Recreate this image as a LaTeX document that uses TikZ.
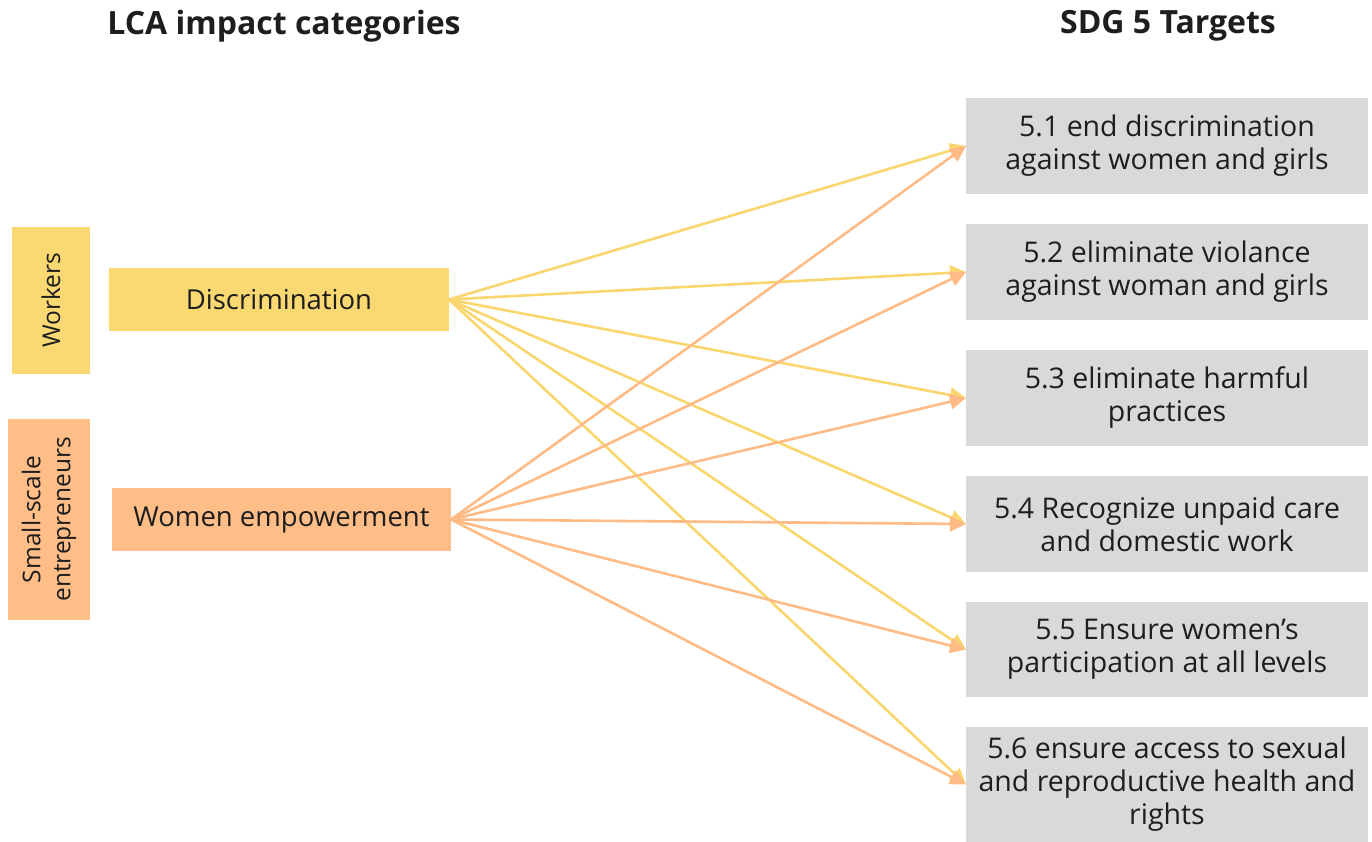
\documentclass[tikz,border=0pt]{standalone}
\usepackage{fontspec}
\setmainfont{Open Sans}
\usetikzlibrary{arrows.meta}
\definecolor{ylw}{HTML}{FAD872}
\definecolor{org}{HTML}{FFBD88}
\definecolor{ylwline}{HTML}{F9D66E}
\definecolor{orgline}{HTML}{FFBB86}
\definecolor{boxgray}{HTML}{D9D9D9}
\definecolor{ink}{HTML}{1E1E1E}
\tikzset{
  every node/.style={inner sep=0pt, outer sep=0pt, text=ink},
  catbox/.style={rectangle, minimum height=63pt, font=\fontsize{27.5}{32}\selectfont},
  groupbox/.style={rectangle, rotate=90, align=center, font=\fontsize{24.5}{30}\selectfont},
  target/.style={rectangle, fill=boxgray, minimum width=402pt, align=center,
                 text=ink, font=\fontsize{28.5}{33}\selectfont},
  header/.style={font=\bfseries\fontsize{32}{36}\selectfont},
  link/.style={line width=2.6pt, -{Triangle[length=16pt,width=15pt]}},
}
\begin{document}
\begin{tikzpicture}[x=1pt,y=-1pt]
\useasboundingbox (0,0) rectangle (1372,842);

% column headings
\node[header] (hleft) at (284,26) {LCA impact categories};
\node[header] (hright) at (1168,26) {SDG 5 Targets};

% stakeholder groups
\node[groupbox, fill=ylw, minimum width=147pt, minimum height=78pt] (workers) at (51,300.5) {Workers};
\node[groupbox, fill=org, minimum width=201pt, minimum height=82pt] (sse) at (49,519.5) {Small-scale\\entrepreneurs};

% impact categories
\node[catbox, fill=ylw, minimum width=340pt] (disc) at (279,299.5) {Discrimination};
\node[catbox, fill=org, minimum width=339pt] (wemp) at (281.5,519.5) {Women empowerment};

% SDG 5 targets
\node[target, minimum height=96pt] (t1) at (1167,146) {5.1 end discrimination\\against women and girls};
\node[target, minimum height=96pt] (t2) at (1167,272) {5.2 eliminate violance\\against woman and girls};
\node[target, minimum height=96pt] (t3) at (1167,398) {5.3 eliminate harmful\\practices};
\node[target, minimum height=96pt] (t4) at (1167,524) {5.4 Recognize unpaid care\\and domestic work};
\node[target, minimum height=95pt] (t5) at (1167,649.5) {5.5 Ensure women’s\\participation at all levels};
\node[target, minimum height=115pt] (t6) at (1167,784.5) {5.6 ensure access to sexual\\and reproductive health and\\rights};

% links from each category to every target
\foreach \t in {t1,t2,t3,t4,t5,t6}
  \draw[link, draw=ylwline, fill=ylwline] (disc.east) -- (\t.west);
\foreach \t in {t1,t2,t3,t4,t5,t6}
  \draw[link, draw=orgline, fill=orgline] (wemp.east) -- (\t.west);
\end{tikzpicture}
\end{document}
